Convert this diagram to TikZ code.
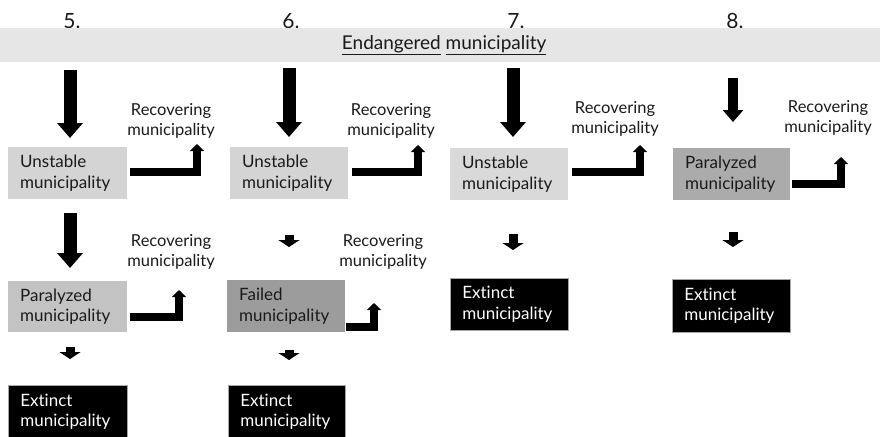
\documentclass[tikz,border=0pt]{standalone}
\usepackage{fontspec}
\setmainfont[Ligatures={NoCommon,NoRare,NoDiscretionary}]{Lato}
\usetikzlibrary{arrows.meta}
\definecolor{bandgray}{HTML}{E6E6E6}
\definecolor{unst}{HTML}{D4D4D4}
\definecolor{unstb}{HTML}{D9D9D9}
\definecolor{para}{HTML}{C3C3C3}
\definecolor{parb}{HTML}{ABABAB}
\definecolor{fail}{HTML}{9C9C9C}
\definecolor{txt}{HTML}{1A1A1A}
\tikzset{
  box/.style={anchor=north west, inner xsep=12pt, inner ysep=2pt, align=left,
    text width=95pt, minimum height=52pt, text=txt,
    font=\fontsize{17}{20.5}\selectfont},
  extinct/.style={box, fill=black, text=white, draw=gray!70, line width=0.6pt},
  rec/.style={align=center, text=txt, font=\fontsize{16.5}{19.5}\selectfont, inner sep=0pt},
  num/.style={text=txt, font=\fontsize{21}{24}\selectfont, inner sep=0pt},
  bigarrow/.style={line width=13pt, -{Triangle[width=25pt,length=15pt]}},
  midarrow/.style={line width=10pt, -{Triangle[width=20pt,length=12pt]}},
  smallarrow/.style={line width=9pt, -{Triangle[width=21pt,length=7pt]}},
  elbow/.style={line width=8pt, line join=miter, -{Triangle[width=14pt,length=7pt]}},
}
\begin{document}
\begin{tikzpicture}[x=1pt,y=-1pt]
\useasboundingbox (0,0) rectangle (880,436);
% numbers
\node[num] (n5) at (72,21) {5.};
\node[num] (n6) at (291,21) {6.};
\node[num] (n7) at (516,21) {7.};
\node[num] (n8) at (735,21) {8.};
% band
\node[fill=bandgray, minimum width=880pt, minimum height=34pt, anchor=north west, inner sep=0pt,
  text=txt, font=\fontsize{19}{22}\selectfont] (band) at (0,28)
  {\hspace*{8pt}\underline{Endangered} \underline{municipality}};
% column axes
\coordinate (c5) at (70,0);
\coordinate (c6) at (289,0);
\coordinate (c7) at (513,0);
\coordinate (c8) at (733,0);
% boxes
\node[box, fill=unst, text width=95pt] (u5) at (8,147) {Unstable\\municipality};
\node[box, fill=para, text width=95pt, minimum height=51pt] (p5) at (8,281) {Paralyzed\\municipality};
\node[extinct, text width=95pt, minimum height=53pt] (e5) at (8,385) {Extinct\\municipality};
\node[box, fill=unst, text width=94pt] (u6) at (230,147) {Unstable\\municipality};
\node[box, fill=fail, text width=94pt] (f6) at (227,280) {Failed\\municipality};
\node[extinct, text width=93pt, minimum height=53pt] (e6) at (228,385) {Extinct\\municipality};
\node[box, fill=unstb, text width=94pt] (u7) at (450,148) {Unstable\\municipality};
\node[extinct, text width=94pt] (e7) at (450,278) {Extinct\\municipality};
\node[box, fill=parb, text width=93pt] (p8) at (673,148) {Paralyzed\\municipality};
\node[extinct, text width=94pt, minimum height=53pt] (e8) at (672,279) {Extinct\\municipality};
% recovering labels
\node[rec] (r5a) at (171,121) {Recovering\\municipality};
\node[rec] (r5b) at (171,252) {Recovering\\municipality};
\node[rec] (r6a) at (391,121) {Recovering\\municipality};
\node[rec] (r6b) at (383,252) {Recovering\\municipality};
\node[rec] (r7a) at (615,119) {Recovering\\municipality};
\node[rec] (r8a) at (828,118) {Recovering\\municipality};
% elbow tips
\coordinate (t5a) at (197,144);
\coordinate (t5b) at (179,290);
\coordinate (t6a) at (418,145);
\coordinate (t6b) at (374,303);
\coordinate (t7a) at (640,145);
\coordinate (t8a) at (841,157);
% down arrows
\draw[bigarrow] ([yshift=-8pt]band.south -| c5) -- ([yshift=9pt]u5.north -| c5);
\draw[bigarrow] ([yshift=-6pt]band.south -| c6) -- ([yshift=10pt]u6.north -| c6);
\draw[bigarrow] ([yshift=-6pt]band.south -| c7) -- ([yshift=11pt]u7.north -| c7);
\draw[midarrow] ([yshift=-16pt]band.south -| c8) -- ([yshift=26pt]p8.north -| c8);
\draw[bigarrow] ([yshift=-14pt]u5.south -| c5) -- ([yshift=13pt]p5.north -| c5);
\draw[smallarrow] ([yshift=-15pt]p5.south -| c5) -- ([yshift=26pt]e5.north -| c5);
\draw[smallarrow] ([yshift=-36pt]u6.south -| c6) -- ([yshift=33pt]f6.north -| c6);
\draw[smallarrow] ([yshift=-18pt]f6.south -| c6) -- ([yshift=25pt]e6.north -| c6);
\draw[smallarrow] ([yshift=-34pt]u7.south -| c7) -- ([yshift=28pt]e7.north -| c7);
\draw[smallarrow] ([yshift=-32pt]p8.south -| c8) -- ([yshift=32pt]e8.north -| c8);
% elbow arrows
\draw[elbow] ([shift={(3pt,1pt)}]u5.east) -| (t5a);
\draw[elbow] ([shift={(3pt,-10pt)}]p5.east) -| (t5b);
\draw[elbow] ([shift={(4pt,1pt)}]u6.east) -| (t6a);
\draw[elbow] ([shift={(1pt,-21pt)}]f6.east) -| (t6b);
\draw[elbow] ([shift={(4pt,2pt)}]u7.east) -| (t7a);
\draw[elbow] ([shift={(2pt,-10pt)}]p8.east) -| (t8a);
\end{tikzpicture}
\end{document}
